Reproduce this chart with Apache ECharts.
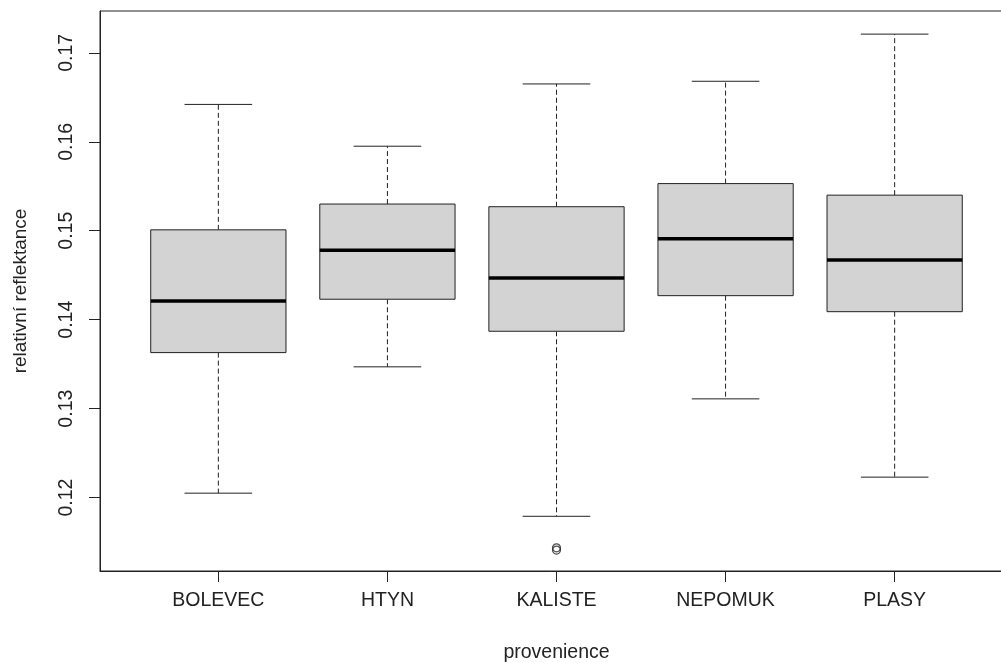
<!DOCTYPE html>
<html>
<head>
<meta charset="utf-8">
<script src="https://cdn.jsdelivr.net/npm/echarts@6/dist/echarts.min.js"></script>
<style>
html,body{margin:0;padding:0;background:#fff;}
#chart{width:1001px;height:663px;}
</style>
</head>
<body>
<div id="chart"></div>
<script>
const categories = ['BOLEVEC', 'HTYN', 'KALISTE', 'NEPOMUK', 'PLASY'];
const lowerWhisker = [0.1205, 0.1347, 0.1179, 0.1311, 0.1223];
const q1 = [0.1363, 0.1423, 0.1387, 0.1427, 0.1409];
const median = [0.1421, 0.1478, 0.1447, 0.1491, 0.1467];
const q3 = [0.1501, 0.1530, 0.1527, 0.1553, 0.1540];
const upperWhisker = [0.1642, 0.1595, 0.1665, 0.1668, 0.1721];
const outlierCategory = ['KALISTE', 'KALISTE'];
const outlierValues = [0.1141, 0.11435];
const yTicks = [0.12, 0.13, 0.14, 0.15, 0.16, 0.17];
const xTitle = 'provenience';
const yTitle = 'relativní reflektance';

const catPos = categories.map((c, i) => i + 1);
const boxData = categories.map((c, i) => [i + 1, lowerWhisker[i], q1[i], median[i], q3[i], upperWhisker[i]]);
const outlierData = outlierCategory.map((c, i) => [categories.indexOf(c) + 1, outlierValues[i]]);

const textColor = '#222';
const font = 'Liberation Sans, Arial, sans-serif';

const chart = echarts.init(document.getElementById('chart'), null, {renderer: 'canvas'});
chart.setOption({
  animation: false,
  backgroundColor: '#fff',
  grid: {left: 100, top: 11, bottom: 92, right: -12, containLabel: false, outerBoundsMode: 'none',
    show: true, borderColor: '#222', borderWidth: 1, backgroundColor: 'transparent'},
  xAxis: {
    type: 'value', min: 0.3, max: 5.7,
    name: xTitle, nameLocation: 'middle', nameGap: 72,
    nameTextStyle: {fontFamily: font, fontSize: 19.5, color: textColor},
    axisLine: {show: true, lineStyle: {color: '#222', width: 1}},
    splitLine: {show: false},
    axisTick: {show: true, customValues: catPos, length: 11, lineStyle: {color: '#222'}},
    axisLabel: {show: true, customValues: catPos, margin: 20, fontFamily: font, fontSize: 19.5, color: textColor,
      formatter: v => categories[Math.round(v) - 1]}
  },
  yAxis: {
    type: 'value', min: 0.11175, max: 0.1747,
    name: yTitle, nameLocation: 'middle', nameGap: 70, nameRotate: 90,
    nameTextStyle: {fontFamily: font, fontSize: 19, color: textColor},
    axisLine: {show: true, lineStyle: {color: '#222', width: 1}},
    splitLine: {show: false},
    axisTick: {show: true, customValues: yTicks, length: 11, lineStyle: {color: '#222'}},
    axisLabel: {show: true, customValues: yTicks, rotate: 90, margin: 23, fontFamily: font, fontSize: 19.5, color: textColor,
      formatter: v => v.toFixed(2)}
  },
  series: [
    {
      type: 'custom',
      data: boxData,
      encode: {x: 0, y: [1, 2, 3, 4, 5]},
      renderItem: function (params, api) {
        const x = api.value(0);
        const pLow = api.coord([x, api.value(1)]);
        const pQ1 = api.coord([x, api.value(2)]);
        const pMed = api.coord([x, api.value(3)]);
        const pQ3 = api.coord([x, api.value(4)]);
        const pUp = api.coord([x, api.value(5)]);
        const halfBox = api.size([0.4, 0])[0];
        const halfCap = api.size([0.2, 0])[0];
        const cx = pMed[0];
        const solid = {stroke: '#222', lineWidth: 1, fill: null};
        const dashed = {stroke: '#222', lineWidth: 1, lineDash: [5, 3], fill: null};
        return {
          type: 'group',
          children: [
            {type: 'line', shape: {x1: cx, y1: pQ3[1], x2: cx, y2: pUp[1]}, style: dashed},
            {type: 'line', shape: {x1: cx, y1: pQ1[1], x2: cx, y2: pLow[1]}, style: dashed},
            {type: 'line', shape: {x1: cx - halfCap, y1: pUp[1], x2: cx + halfCap, y2: pUp[1]}, style: solid},
            {type: 'line', shape: {x1: cx - halfCap, y1: pLow[1], x2: cx + halfCap, y2: pLow[1]}, style: solid},
            {type: 'rect', shape: {x: cx - halfBox, y: pQ3[1], width: 2 * halfBox, height: pQ1[1] - pQ3[1]},
              style: {fill: '#d3d3d3', stroke: '#222', lineWidth: 1}},
            {type: 'line', shape: {x1: cx - halfBox, y1: pMed[1], x2: cx + halfBox, y2: pMed[1]},
              style: {stroke: '#000', lineWidth: 3.5}}
          ]
        };
      }
    },
    {
      type: 'scatter',
      data: outlierData,
      symbol: 'circle',
      symbolSize: 8,
      itemStyle: {color: 'rgba(0,0,0,0)', borderColor: '#222', borderWidth: 1.2}
    }
  ]
});
</script>
</body>
</html>
